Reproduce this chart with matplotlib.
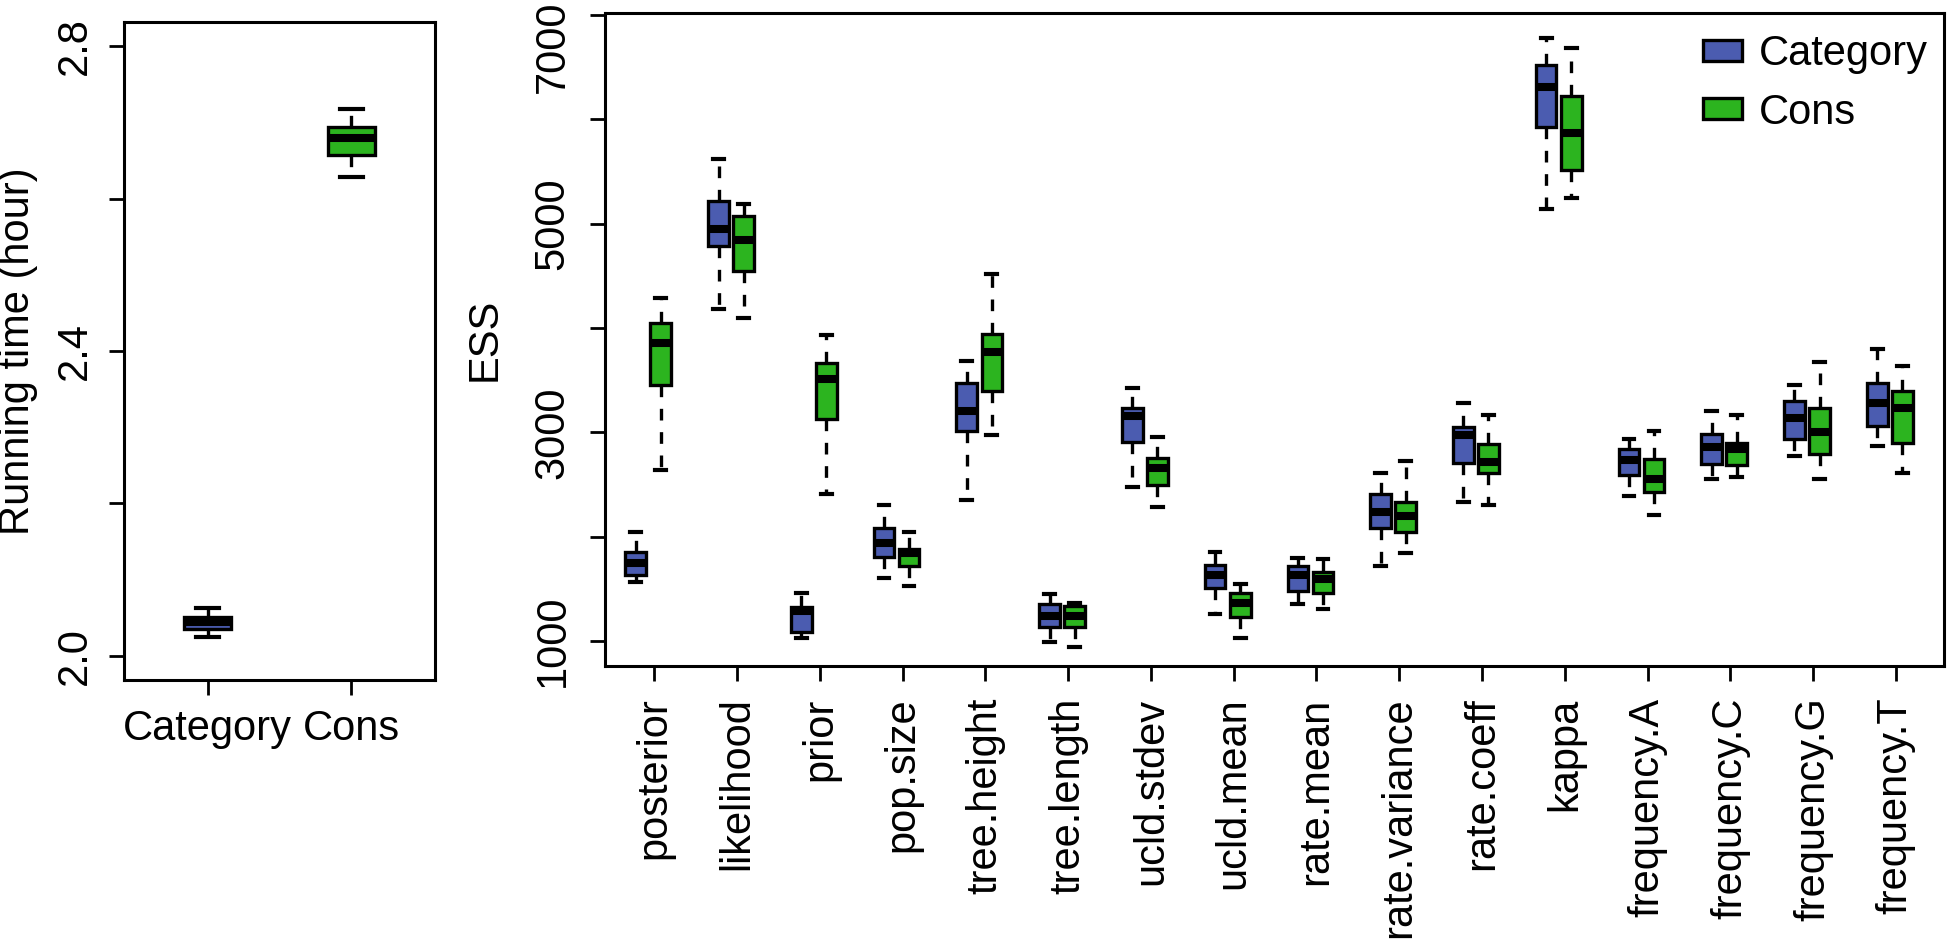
import matplotlib
matplotlib.use("Agg")
import matplotlib.pyplot as plt
from matplotlib.patches import Patch

plt.rcParams['font.family'] = ['Liberation Sans', 'DejaVu Sans']

# ---- running time (hours) ----
rt_groups = ["Category", "Cons"]
rt_whislo = [2.025, 2.629]
rt_q1 = [2.035, 2.658]
rt_med = [2.044, 2.680]
rt_q3 = [2.051, 2.694]
rt_whishi = [2.062, 2.718]

# ---- ESS per parameter ----
params = ["posterior", "likelihood", "prior", "pop.size", "tree.height",
          "tree.length", "ucld.stdev", "ucld.mean", "rate.mean",
          "rate.variance", "rate.coeff", "kappa", "frequency.A",
          "frequency.C", "frequency.G", "frequency.T"]

cat_whislo = [1561, 4181, 1025, 1603, 2347, 992, 2480, 1262, 1353, 1719, 2335, 5137, 2393, 2551, 2771, 2871]
cat_q1 = [1632, 4788, 1083, 1807, 3017, 1129, 2904, 1511, 1482, 2081, 2709, 5927, 2593, 2696, 2938, 3062]
cat_med = [1744, 4954, 1291, 1940, 3204, 1241, 3154, 1636, 1636, 2239, 2979, 6314, 2738, 2863, 3133, 3279]
cat_q3 = [1857, 5220, 1324, 2081, 3474, 1358, 3229, 1732, 1723, 2405, 3050, 6522, 2842, 2988, 3299, 3470]
cat_whishi = [2048, 5620, 1457, 2301, 3686, 1449, 3424, 1852, 1798, 2613, 3279, 6780, 2938, 3204, 3457, 3798]

cons_whislo = [2642, 4098, 2410, 1524, 2971, 942, 2289, 1025, 1308, 1844, 2301, 5245, 2210, 2572, 2551, 2613]
cons_q1 = [3457, 4547, 3129, 1715, 3395, 1137, 2497, 1229, 1457, 2048, 2613, 5520, 2426, 2684, 2788, 2896]
cons_med = [3861, 4846, 3507, 1840, 3769, 1237, 2663, 1366, 1595, 2198, 2717, 5869, 2551, 2842, 3008, 3237]
cons_q3 = [4052, 5075, 3669, 1881, 3940, 1333, 2750, 1457, 1665, 2335, 2884, 6222, 2746, 2896, 3237, 3395]
cons_whishi = [4285, 5187, 3936, 2040, 4514, 1366, 2954, 1549, 1782, 2730, 3162, 6688, 3017, 3162, 3674, 3632]

ess_ticks = [1000, 2000, 3000, 4000, 5000, 6000, 7000]
ess_ticklabels = ["1000", "", "3000", "", "5000", "", "7000"]

blue = "#4b5cb0"
green = "#2cb41f"


def stats(lo, q1, med, q3, hi):
    return [dict(whislo=a, q1=b, med=c, q3=d, whishi=e, fliers=[])
            for a, b, c, d, e in zip(lo, q1, med, q3, hi)]


def draw(ax, st, pos, width, color, capw):
    ax.bxp(st, positions=pos, widths=width, patch_artist=True, showfliers=False,
           capwidths=capw,
           boxprops=dict(facecolor=color, edgecolor="black", linewidth=2.4),
           medianprops=dict(color="black", linewidth=5.8, solid_capstyle="butt"),
           whiskerprops=dict(color="black", linewidth=2.4, linestyle=(0, (3.5, 3.5))),
           capprops=dict(color="black", linewidth=3.0))


fig = plt.figure(figsize=(19.47, 9.41), dpi=100)

# left panel
ax1 = fig.add_axes([0.0637, 0.2774, 0.1597, 0.6992])
rt_stats = stats(rt_whislo, rt_q1, rt_med, rt_q3, rt_whishi)
draw(ax1, rt_stats[:1], [1], 0.32, blue, 0.16)
draw(ax1, rt_stats[1:], [2], 0.32, green, 0.16)
ax1.set_xlim(0.42, 2.58)
ax1.set_ylim(1.968, 2.832)
ax1.set_xticks([1, 2])
ax1.set_xticklabels(rt_groups, fontsize=30)
ax1.set_yticks([2.0, 2.2, 2.4, 2.6, 2.8])
ax1.set_yticklabels(["2.0", "", "2.4", "", "2.8"], fontsize=30, rotation=90, va="center")
ax1.set_ylabel("Running time (hour)", fontsize=30, labelpad=12)
ax1.tick_params(length=11, width=2.0, pad=10)

# right panel
ax2 = fig.add_axes([0.3105, 0.2926, 0.688, 0.6936])
xs = list(range(1, len(params) + 1))
draw(ax2, stats(cat_whislo, cat_q1, cat_med, cat_q3, cat_whishi),
     [x - 0.225 for x in xs], 0.25, blue, 0.13)
draw(ax2, stats(cons_whislo, cons_q1, cons_med, cons_q3, cons_whishi),
     [x + 0.078 for x in xs], 0.25, green, 0.13)
ax2.set_xlim(0.398, 16.583)
ax2.set_ylim(763, 7021)
ax2.set_xticks(xs)
ax2.set_xticklabels(params, fontsize=30, rotation=90, ha="center", va="top")
ax2.set_yticks(ess_ticks)
ax2.set_yticklabels(ess_ticklabels[:-1] + [""], fontsize=30, rotation=90, va="center")
# top label sits lower than its tick so it is not cut by the figure edge
ax2.annotate(ess_ticklabels[-1], xy=(0, ess_ticks[-1]), xycoords=("axes fraction", "data"),
             xytext=(-32, -32), textcoords="offset pixels", rotation=90,
             ha="right", va="center", fontsize=30)
ax2.set_ylabel("ESS", fontsize=30, labelpad=20)
ax2.tick_params(length=11, width=2.0, pad=12)

for ax in (ax1, ax2):
    for s in ax.spines.values():
        s.set_linewidth(2.2)

ax2.legend(handles=[Patch(facecolor=blue, edgecolor="black", linewidth=2.4),
                    Patch(facecolor=green, edgecolor="black", linewidth=2.4)],
           labels=["Category", "Cons"], loc="upper right",
           bbox_to_anchor=(1928 / 1947, 1 - 34 / 941), bbox_transform=fig.transFigure,
           frameon=False, fontsize=30, handlelength=0.95, handleheight=0.4,
           handletextpad=0.4, labelspacing=0.45, borderpad=0, borderaxespad=0)

fig.savefig("out.png", dpi=100)
